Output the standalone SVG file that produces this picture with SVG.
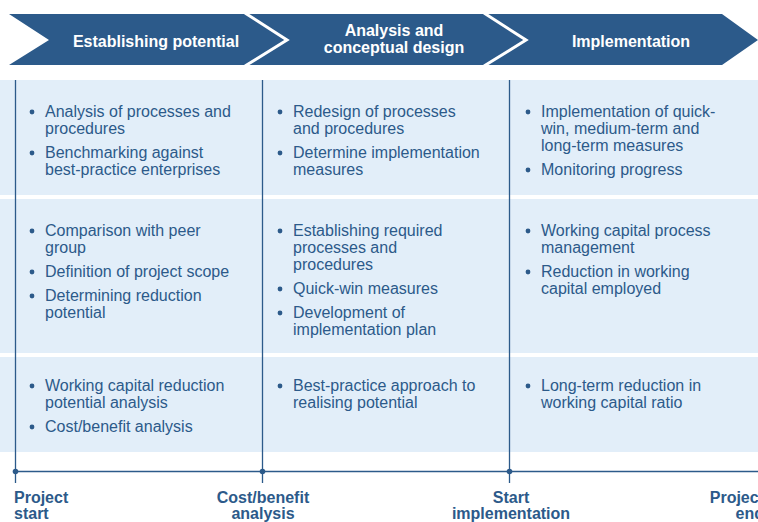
<svg xmlns="http://www.w3.org/2000/svg" width="758" height="522" viewBox="0 0 758 522">
  <style>
    .band { fill: #2c5a8a; }
    .sep { fill: none; stroke: #ffffff; stroke-width: 3; }
    .panel { fill: #e2eef9; }
    .phase { font-family: "Liberation Sans", Arial, sans-serif; font-size: 16px; font-weight: bold; fill: #ffffff; text-anchor: middle; }
    .item { font-family: "Liberation Sans", Arial, sans-serif; font-size: 16px; fill: #2c5a8a; }
    .dot { fill: #2c5a8a; }
    .axis { stroke: #2c5a8a; stroke-width: 1.3; fill: none; }
    .mile { font-family: "Liberation Sans", Arial, sans-serif; font-size: 16px; font-weight: bold; fill: #2c5a8a; }
  </style>

  <!-- phase chevron band -->
  <g id="phases">
    <polygon class="band" points="9,14 722,14 758,40 722,65 9,65 49,40"/>
    <polyline class="sep" points="245,13 287,40 245,66"/>
    <polyline class="sep" points="484,13 526,40 484,66"/>
    <text class="phase" x="156" y="47">Establishing potential</text>
    <text class="phase" x="394" y="36">Analysis and</text>
    <text class="phase" x="394" y="53">conceptual design</text>
    <text class="phase" x="631" y="47">Implementation</text>
  </g>

  <!-- row panels -->
  <g id="panels">
    <rect class="panel" x="0" y="80" width="758" height="115"/>
    <rect class="panel" x="0" y="199" width="758" height="154"/>
    <rect class="panel" x="0" y="357" width="758" height="95"/>
  </g>

  <!-- milestone dividers and timeline -->
  <g id="connectors">
    <line class="axis" x1="15.5" y1="80" x2="15.5" y2="483"/>
    <line class="axis" x1="262.5" y1="80" x2="262.5" y2="483"/>
    <line class="axis" x1="509.5" y1="80" x2="509.5" y2="483"/>
    <line class="axis" x1="15.5" y1="471.5" x2="758" y2="471.5"/>
    <circle class="dot" cx="15.5" cy="471.5" r="2.8"/>
    <circle class="dot" cx="262.5" cy="471.5" r="2.8"/>
    <circle class="dot" cx="509.5" cy="471.5" r="2.8"/>
  </g>

  <!-- column 1 -->
  <g id="col1-row1">
    <circle class="dot" cx="32" cy="112" r="2.4"/>
    <text class="item" x="45" y="117">Analysis of processes and</text>
    <text class="item" x="45" y="134">procedures</text>
    <circle class="dot" cx="32" cy="153" r="2.4"/>
    <text class="item" x="45" y="158">Benchmarking against</text>
    <text class="item" x="45" y="175">best-practice enterprises</text>
  </g>
  <g id="col1-row2">
    <circle class="dot" cx="32" cy="231" r="2.4"/>
    <text class="item" x="45" y="236">Comparison with peer</text>
    <text class="item" x="45" y="253">group</text>
    <circle class="dot" cx="32" cy="272" r="2.4"/>
    <text class="item" x="45" y="277">Definition of project scope</text>
    <circle class="dot" cx="32" cy="296" r="2.4"/>
    <text class="item" x="45" y="301">Determining reduction</text>
    <text class="item" x="45" y="318">potential</text>
  </g>
  <g id="col1-row3">
    <circle class="dot" cx="32" cy="386" r="2.4"/>
    <text class="item" x="45" y="391">Working capital reduction</text>
    <text class="item" x="45" y="408">potential analysis</text>
    <circle class="dot" cx="32" cy="427" r="2.4"/>
    <text class="item" x="45" y="432">Cost/benefit analysis</text>
  </g>

  <!-- column 2 -->
  <g id="col2-row1">
    <circle class="dot" cx="280" cy="112" r="2.4"/>
    <text class="item" x="293" y="117">Redesign of processes</text>
    <text class="item" x="293" y="134">and procedures</text>
    <circle class="dot" cx="280" cy="153" r="2.4"/>
    <text class="item" x="293" y="158">Determine implementation</text>
    <text class="item" x="293" y="175">measures</text>
  </g>
  <g id="col2-row2">
    <circle class="dot" cx="280" cy="231" r="2.4"/>
    <text class="item" x="293" y="236">Establishing required</text>
    <text class="item" x="293" y="253">processes and</text>
    <text class="item" x="293" y="270">procedures</text>
    <circle class="dot" cx="280" cy="289" r="2.4"/>
    <text class="item" x="293" y="294">Quick-win measures</text>
    <circle class="dot" cx="280" cy="313" r="2.4"/>
    <text class="item" x="293" y="318">Development of</text>
    <text class="item" x="293" y="335">implementation plan</text>
  </g>
  <g id="col2-row3">
    <circle class="dot" cx="280" cy="386" r="2.4"/>
    <text class="item" x="293" y="391">Best-practice approach to</text>
    <text class="item" x="293" y="408">realising potential</text>
  </g>

  <!-- column 3 -->
  <g id="col3-row1">
    <circle class="dot" cx="528" cy="112" r="2.4"/>
    <text class="item" x="541" y="117">Implementation of quick-</text>
    <text class="item" x="541" y="134">win, medium-term and</text>
    <text class="item" x="541" y="151">long-term measures</text>
    <circle class="dot" cx="528" cy="170" r="2.4"/>
    <text class="item" x="541" y="175">Monitoring progress</text>
  </g>
  <g id="col3-row2">
    <circle class="dot" cx="528" cy="231" r="2.4"/>
    <text class="item" x="541" y="236">Working capital process</text>
    <text class="item" x="541" y="253">management</text>
    <circle class="dot" cx="528" cy="272" r="2.4"/>
    <text class="item" x="541" y="277">Reduction in working</text>
    <text class="item" x="541" y="294">capital employed</text>
  </g>
  <g id="col3-row3">
    <circle class="dot" cx="528" cy="386" r="2.4"/>
    <text class="item" x="541" y="391">Long-term reduction in</text>
    <text class="item" x="541" y="408">working capital ratio</text>
  </g>

  <!-- milestone labels -->
  <g id="milestones">
    <text class="mile" x="14" y="503">Project</text>
    <text class="mile" x="14" y="519">start</text>
    <text class="mile" x="263" y="503" text-anchor="middle">Cost/benefit</text>
    <text class="mile" x="263" y="519" text-anchor="middle">analysis</text>
    <text class="mile" x="511" y="503" text-anchor="middle">Start</text>
    <text class="mile" x="511" y="519" text-anchor="middle">implementation</text>
    <text class="mile" x="764" y="503" text-anchor="end">Project</text>
    <text class="mile" x="764" y="519" text-anchor="end">end</text>
  </g>
</svg>
